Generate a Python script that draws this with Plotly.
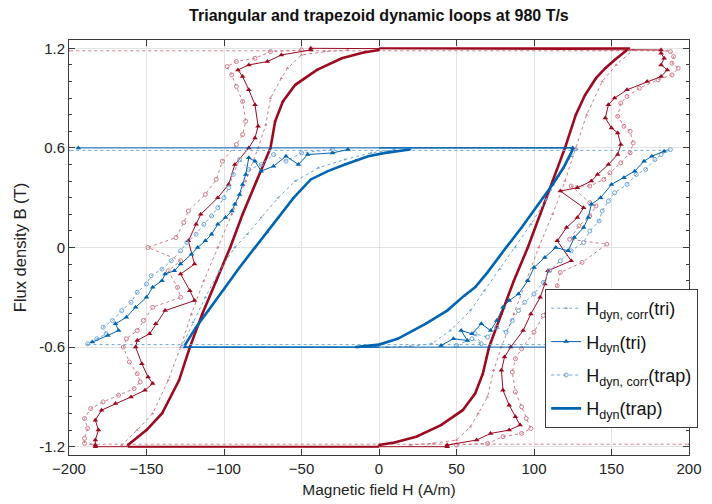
import plotly.graph_objects as go

FONT = "Liberation Sans Narrow, Arial Narrow, Liberation Sans, Arial, sans-serif"

# ---------------- blue loop (B max 0.6 T) ----------------
# Hdyn(trap): smooth thick branches
b_trap_H = [20, 10, 4, -7, -15, -22, -33, -44, -55, -65, -72, -80, -90, -100, -110, -118, -125, None,
            -15, 0, 12, 22, 30, 44, 55, 62, 70, 82, 92, 102, 112, 119, 125]
b_trap_B = [0.59, 0.58, 0.57, 0.55, 0.525, 0.50, 0.46, 0.41, 0.30, 0.18, 0.09, 0.0, -0.12, -0.25, -0.38, -0.48, -0.585, None,
            -0.6, -0.585, -0.55, -0.50, -0.46, -0.38, -0.29, -0.24, -0.15, 0.0, 0.12, 0.25, 0.38, 0.48, 0.59]
# trap holds at +/-0.6
b_hold_H = [125, 0, None, -125, 0]
b_hold_B = [0.6, 0.6, None, -0.6, -0.6]

# Hdyn,corr(tri): lighter smooth dotted loop + dotted holds
b_tricorr_H = [10, -5, -22, -39, -54, -65, -76, -85, -93, -103, -112, -120, -127, None,
               5, 20, 34, 46, 59, 68, 78, 88, 98, 108, 116, 124, 128, None,
               186, -200, None, -188, 200]
b_tricorr_B = [0.59, 0.57, 0.53, 0.48, 0.40, 0.30, 0.18, 0.08, 0.0, -0.14, -0.30, -0.45, -0.59, None,
               -0.6, -0.595, -0.58, -0.50, -0.38, -0.26, -0.13, 0.0, 0.14, 0.29, 0.43, 0.55, 0.59, None,
               0.585, 0.585, None, -0.585, -0.585]

# Hdyn(tri): zigzag triangles
b_tri_H = [-20, -30, -46, -52, -60, -68, -76, -80, -84, -86, -88, -90, -93, -95, -99, -104, -108, -112, -117, -121,
           -128, -132, -138, -140, -146, -150, -157, -163, -170, -168, -175, -185, None,
           -125, 194, None,
           40, 48, 57, 53, 60, 66, 72, 76, 80, 84, 90, 96, 100, 107, 114, 122, 126, 132, 135, 137, 143, 150, 158,
           165, 171, 176, 184, None,
           125, -194]
b_tri_B = [0.59, 0.57, 0.56, 0.50, 0.55, 0.49, 0.46, 0.52, 0.54, 0.44, 0.38, 0.32, 0.26, 0.22, 0.18, 0.14, 0.08, 0.04, 0.0, -0.04,
           -0.10, -0.14, -0.16, -0.20, -0.24, -0.30, -0.36, -0.42, -0.46, -0.50, -0.53, -0.57, None,
           -0.6, -0.6, None,
           -0.59, -0.55, -0.56, -0.50, -0.52, -0.46, -0.50, -0.44, -0.36, -0.32, -0.28, -0.20, -0.12, -0.06, 0.0, -0.02, 0.06, 0.12, 0.18, 0.26, 0.30, 0.38, 0.42,
           0.46, 0.52, 0.55, 0.58, None,
           0.6, 0.6]

# Hdyn,corr(trap): zigzag circles
b_trapcorr_H = [-30, -50, -60, -68, -76, -84, -90, -94, -97, -100, -104, -108, -113, -118, -124, -128, -134, -140, -147,
                -150, -156, -160, -166, -172, -178, -176, -182, -188, None,
                50, 60, 66, 62, 70, 76, 82, 86, 90, 94, 100, 106, 110, 117, 124, 132, 136, 142, 144, 148, 152, 160,
                166, 172, 178, 182, 188]
b_trapcorr_B = [0.59, 0.57, 0.52, 0.56, 0.50, 0.47, 0.53, 0.44, 0.36, 0.30, 0.24, 0.19, 0.14, 0.08, 0.03, -0.02, -0.08, -0.13, -0.17,
                -0.22, -0.27, -0.33, -0.38, -0.44, -0.48, -0.52, -0.55, -0.58, None,
                -0.59, -0.55, -0.58, -0.52, -0.54, -0.48, -0.51, -0.44, -0.38, -0.33, -0.28, -0.21, -0.14, -0.08, -0.02, 0.03, 0.10, 0.16, 0.22, 0.28, 0.33, 0.38,
                0.44, 0.47, 0.53, 0.56, 0.59]

# ---------------- red loop (B max 1.2 T) ----------------
r_trap_H = [0, -10, -24, -40, -54, -62, -67, -70, -79, -88, -96, -105, -114, -122, -129, -140, -150, -162, None,
            0, 10, 24, 40, 54, 62, 67, 71, 79, 87, 96, 104, 112, 120, 127, 133, 140, 146, 152, 160]
r_trap_B = [1.19, 1.175, 1.14, 1.07, 0.98, 0.88, 0.76, 0.60, 0.40, 0.20, 0.0, -0.20, -0.40, -0.60, -0.80, -1.0, -1.10, -1.19, None,
            -1.19, -1.175, -1.14, -1.07, -0.98, -0.88, -0.76, -0.60, -0.40, -0.20, 0.0, 0.20, 0.40, 0.60, 0.80, 0.92, 1.02, 1.08, 1.13, 1.19]
r_hold_H = [162, 0, None, -162, 0]
r_hold_B = [1.2, 1.2, None, -1.2, -1.2]

r_tricorr_H = [-20, -35, -50, -59, -63, -70, -73, -78, -86, -95, -104, -113, -121, -128, -136, -146, -156, -166, None,
               20, 35, 50, 59, 64, 70, 74, 79, 87, 95, 103, 112, 120, 127, 134, 144, 153, 164, None,
               186, -200, None, -186, 200]
r_tricorr_B = [1.19, 1.18, 1.16, 1.08, 1.02, 0.90, 0.74, 0.60, 0.40, 0.20, 0.0, -0.20, -0.40, -0.60, -0.80, -1.0, -1.10, -1.19, None,
               -1.19, -1.18, -1.16, -1.08, -1.0, -0.90, -0.74, -0.60, -0.40, -0.20, 0.0, 0.20, 0.40, 0.60, 0.80, 1.0, 1.10, 1.19, None,
               1.185, 1.185, None, -1.185, -1.185]

r_tri_H = [-44, -63, -72, -84, -91, -88, -84, -80, -78, -80, -84, -93, -97, -104, -115, -118, -123, -119, -128, -122, -119,
           -138, -144, -148, -156, -157, -153, -149, -146, -151, -160, -170, -179, -183, -181, -183, -183, None,
           -183, 44, None,
           44, 63, 72, 84, 91, 88, 84, 80, 79, 81, 85, 93, 98, 104, 107, 109, 124, 115, 121, 128, 132, 117, 128, 137, 141,
           148, 154, 156, 154, 150, 146, 148, 152, 160, 173, 182, 186, 182, 184, 182, None,
           182, -44]
r_tri_B = [1.19, 1.16, 1.12, 1.10, 1.07, 1.03, 0.95, 0.86, 0.73, 0.66, 0.60, 0.50, 0.38, 0.30, 0.20, 0.14, 0.04, -0.10, -0.16, -0.26, -0.32,
           -0.38, -0.46, -0.52, -0.56, -0.60, -0.70, -0.78, -0.82, -0.86, -0.90, -0.94, -0.98, -1.04, -1.10, -1.16, -1.19, None,
           -1.2, -1.2, None,
           -1.19, -1.16, -1.12, -1.10, -1.07, -1.02, -0.95, -0.86, -0.74, -0.66, -0.60, -0.50, -0.40, -0.30, -0.22, -0.14, -0.08, 0.04, 0.12, 0.18, 0.24, 0.34, 0.36, 0.40, 0.44,
           0.50, 0.56, 0.62, 0.69, 0.72, 0.78, 0.86, 0.90, 0.95, 1.0, 1.03, 1.07, 1.10, 1.14, 1.17, None,
           1.19, 1.2]

r_trapcorr_H = [-50, -70, -80, -92, -98, -95, -92, -88, -86, -88, -92, -101, -105, -112, -123, -126, -131, -149, -128, -136,
                -130, -128, -146, -152, -156, -163, -165, -161, -156, -154, -158, -168, -178, -186, -190, -188, -190, -190, None,
                50, 70, 80, 92, 98, 95, 92, 88, 86, 88, 92, 100, 106, 112, 115, 117, 131, 147, 123, 129, 136, 140, 136, 124,
                136, 145, 149, 156, 162, 164, 162, 158, 154, 156, 160, 168, 180, 189, 193, 189, 190, 188]
r_trapcorr_B = [1.19, 1.18, 1.14, 1.12, 1.09, 1.04, 0.97, 0.88, 0.76, 0.68, 0.62, 0.52, 0.41, 0.32, 0.22, 0.15, 0.06, 0.0, -0.08, -0.14,
                -0.24, -0.30, -0.36, -0.44, -0.50, -0.55, -0.60, -0.69, -0.76, -0.81, -0.85, -0.89, -0.93, -0.97, -1.03, -1.09, -1.15, -1.18, None,
                -1.19, -1.18, -1.14, -1.12, -1.09, -1.03, -0.96, -0.87, -0.75, -0.67, -0.61, -0.51, -0.41, -0.31, -0.23, -0.15, -0.09, 0.02, 0.05, 0.13, 0.19, 0.25, 0.27, 0.37,
                0.37, 0.41, 0.45, 0.51, 0.57, 0.63, 0.70, 0.73, 0.79, 0.87, 0.91, 0.96, 1.01, 1.04, 1.08, 1.11, 1.15, 1.18]

legend_names = ["H<sub>dyn, corr</sub>(tri)", "H<sub>dyn</sub>(tri)",
                "H<sub>dyn, corr</sub>(trap)", "H<sub>dyn</sub>(trap)"]

BLUE = "#0064B2"
BLUE_L = "#6EA6D8"
RED = "#9C0A1F"
RED_L = "#CF7C88"

fig = go.Figure()


def add_set(trap, hold, tricorr, tri, trapcorr, dark, light, show, hold_w, pfx):
    fig.add_trace(go.Scatter(x=tricorr[0], y=tricorr[1], mode="lines+markers", name=legend_names[0],
                             showlegend=show, legendrank=1, legendgroup=pfx + "1",
                             line=dict(color=light, width=1, dash="dot"),
                             marker=dict(symbol="triangle-up", size=3, color=light)))
    fig.add_trace(go.Scatter(x=trapcorr[0], y=trapcorr[1], mode="lines+markers", name=legend_names[2],
                             showlegend=show, legendrank=3, legendgroup=pfx + "3",
                             line=dict(color=light, width=1, dash="dot"),
                             marker=dict(symbol="circle-open", size=4, color=light, line=dict(width=1))))
    fig.add_trace(go.Scatter(x=hold[0], y=hold[1], mode="lines", showlegend=False, hoverinfo="skip",
                             legendgroup=pfx + "h",
                             line=dict(color=dark, width=hold_w)))
    fig.add_trace(go.Scatter(x=tri[0], y=tri[1], mode="lines+markers", name=legend_names[1],
                             showlegend=show, legendrank=2, legendgroup=pfx + "2",
                             line=dict(color=dark, width=1),
                             marker=dict(symbol="triangle-up", size=5, color=dark)))
    fig.add_trace(go.Scatter(x=trap[0], y=trap[1], mode="lines+markers", name=legend_names[3],
                             showlegend=show, legendrank=4, legendgroup=pfx + "4",
                             line=dict(color=dark, width=2.6),
                             marker=dict(symbol="triangle-up", size=3, color=dark)))


add_set((r_trap_H, r_trap_B), (r_hold_H, r_hold_B), (r_tricorr_H, r_tricorr_B), (r_tri_H, r_tri_B),
        (r_trapcorr_H, r_trapcorr_B), RED, RED_L, False, 2, "r")
add_set((b_trap_H, b_trap_B), (b_hold_H, b_hold_B), (b_tricorr_H, b_tricorr_B), (b_tri_H, b_tri_B),
        (b_trapcorr_H, b_trapcorr_B), BLUE, BLUE_L, True, 1.2, "b")

axis_common = dict(showline=True, linecolor="#3a3a3a", linewidth=1, mirror="ticks",
                   ticks="inside", ticklen=6, tickcolor="#3a3a3a",
                   showgrid=True, gridcolor="#e3e3e3", gridwidth=1, zeroline=False,
                   tickfont=dict(family=FONT, size=15, color="#222"))

fig.update_layout(
    width=712, height=504,
    margin=dict(l=61, r=31, t=32, b=57),
    paper_bgcolor="white", plot_bgcolor="white",
    title=dict(text="<b>Triangular and trapezoid dynamic loops at 980 T/s</b>",
               x=0.521, xanchor="center", y=0.985, yanchor="middle",
               font=dict(family=FONT, size=16, color="#111")),
    xaxis=dict(range=[-200, 200], tick0=-200, dtick=50,
               title=dict(text="Magnetic field H (A/m)", font=dict(family=FONT, size=15.5, color="#222"), standoff=8),
               **axis_common),
    yaxis=dict(range=[-1.25, 1.25], tick0=0, dtick=0.6,
               tickvals=[-1.2, -0.6, 0, 0.6, 1.2], ticktext=["-1.2", "-0.6", "0", "0.6", "1.2"],
               minor=dict(dtick=0.1, tick0=0, ticks="inside", ticklen=3, tickcolor="#3a3a3a", showgrid=False),
               title=dict(text="Flux density B (T)", font=dict(family=FONT, size=16.5, color="#222"), standoff=8),
               **axis_common),
    legend=dict(x=0.768, y=0.40, xanchor="left", yanchor="top",
                bgcolor="white", bordercolor="#3a3a3a", borderwidth=1,
                font=dict(family=FONT, size=18, color="#111"),
                traceorder="grouped", tracegroupgap=7, itemwidth=30),
    showlegend=True,
)

fig.write_html("out.html")
